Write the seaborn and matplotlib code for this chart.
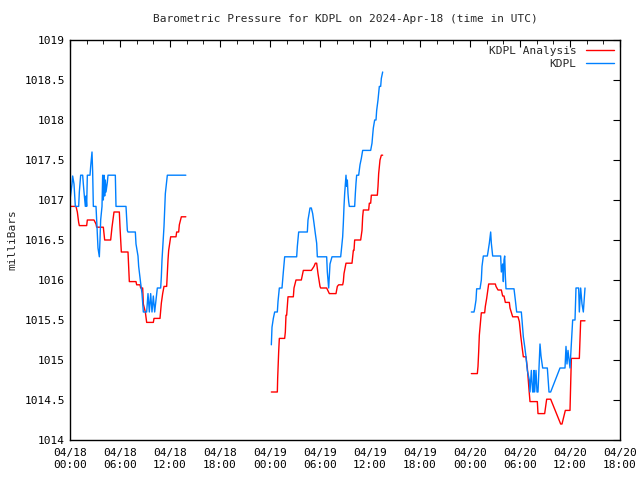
import pandas as pd
import matplotlib
matplotlib.use("Agg")
import matplotlib.pyplot as plt
import matplotlib.dates as mdates
from matplotlib.ticker import MultipleLocator, FormatStrFormatter
import seaborn as sns

# (hours since 2024-04-18 00:00 UTC, pressure in mb)
analysis_seg1 = [(0.0, 1016.92), (0.72, 1016.92), (0.88, 1016.85), (1.04, 1016.72), (1.12, 1016.68),
                 (2.0, 1016.68), (2.08, 1016.75), (2.88, 1016.75), (3.12, 1016.7), (3.2, 1016.66),
                 (4.0, 1016.66), (4.16, 1016.5), (4.88, 1016.5), (5.04, 1016.66), (5.28, 1016.85),
                 (5.92, 1016.85), (6.0, 1016.66), (6.16, 1016.35), (6.96, 1016.35), (7.12, 1015.98),
                 (7.92, 1015.98), (8.0, 1015.94), (8.4, 1015.94), (8.48, 1015.9), (8.72, 1015.9),
                 (8.8, 1015.7), (9.04, 1015.6), (9.2, 1015.47), (10.0, 1015.47), (10.08, 1015.52),
                 (10.8, 1015.52), (10.96, 1015.71), (11.12, 1015.83), (11.28, 1015.92), (11.6, 1015.92),
                 (11.76, 1016.25), (11.84, 1016.37), (12.08, 1016.54), (12.72, 1016.54), (12.8, 1016.6),
                 (13.04, 1016.6), (13.12, 1016.69), (13.36, 1016.79), (13.9, 1016.79)]
analysis_seg2 = [(24.16, 1014.6), (24.88, 1014.6), (24.92, 1014.77), (25.04, 1015.1), (25.12, 1015.27),
                 (25.76, 1015.27), (25.84, 1015.35), (25.92, 1015.56), (26.0, 1015.56), (26.16, 1015.79),
                 (26.8, 1015.79), (26.88, 1015.9), (27.12, 1016.0), (27.76, 1016.0), (28.0, 1016.12),
                 (28.96, 1016.12), (29.28, 1016.17), (29.44, 1016.21), (29.6, 1016.21), (29.76, 1016.08),
                 (30.0, 1015.92), (30.08, 1015.9), (30.8, 1015.9), (31.12, 1015.83), (31.92, 1015.83),
                 (32.08, 1015.92), (32.24, 1015.94), (32.72, 1015.94), (32.8, 1015.98), (32.88, 1016.08),
                 (33.12, 1016.21), (33.84, 1016.21), (34.0, 1016.37), (34.08, 1016.37), (34.16, 1016.5),
                 (34.88, 1016.5), (35.04, 1016.62), (35.12, 1016.79), (35.2, 1016.875), (35.84, 1016.875),
                 (35.92, 1016.96), (36.08, 1016.96), (36.16, 1017.06), (36.88, 1017.06), (36.96, 1017.17),
                 (37.04, 1017.33), (37.2, 1017.5), (37.36, 1017.56), (37.52, 1017.56)]
analysis_seg3 = [(48.16, 1014.83), (48.88, 1014.83), (48.96, 1014.92), (49.04, 1015.1), (49.12, 1015.31),
                 (49.28, 1015.5), (49.36, 1015.59), (49.76, 1015.59), (49.84, 1015.67), (50.0, 1015.77),
                 (50.16, 1015.89), (50.24, 1015.95), (51.04, 1015.95), (51.12, 1015.92), (51.36, 1015.875),
                 (51.76, 1015.875), (51.92, 1015.8), (52.08, 1015.8), (52.24, 1015.72), (52.72, 1015.72),
                 (52.8, 1015.65), (53.12, 1015.54), (53.76, 1015.54), (53.92, 1015.48), (54.08, 1015.31),
                 (54.24, 1015.17), (54.4, 1015.04), (54.72, 1015.04), (54.88, 1014.9), (55.12, 1014.58),
                 (55.2, 1014.48), (56.08, 1014.48), (56.16, 1014.33), (56.96, 1014.33), (57.2, 1014.51),
                 (57.68, 1014.51), (58.88, 1014.2), (59.04, 1014.2), (59.44, 1014.37), (60.0, 1014.37),
                 (60.16, 1015.02), (61.12, 1015.02), (61.28, 1015.49), (61.8, 1015.49)]

kdpl_seg1 = [(0.0, 1017.0), (0.24, 1017.2), (0.32, 1017.3), (0.48, 1017.2), (0.64, 1016.92), (1.04, 1016.92),
             (1.12, 1017.1), (1.28, 1017.31), (1.52, 1017.31), (1.6, 1017.2), (1.68, 1017.1), (1.84, 1016.92),
             (1.92, 1017.05), (2.0, 1016.92), (2.08, 1017.31), (2.4, 1017.31), (2.48, 1017.42), (2.64, 1017.6),
             (2.72, 1017.35), (2.8, 1016.92), (3.12, 1016.92), (3.2, 1016.75), (3.36, 1016.4), (3.52, 1016.29),
             (3.6, 1016.5), (3.68, 1016.75), (3.84, 1016.92), (3.92, 1017.31), (4.0, 1017.0), (4.08, 1017.31),
             (4.16, 1017.05), (4.24, 1017.25), (4.32, 1017.1), (4.48, 1017.22), (4.56, 1017.31), (5.44, 1017.31),
             (5.52, 1016.92), (6.72, 1016.92), (6.88, 1016.62), (6.96, 1016.6), (7.84, 1016.6), (7.92, 1016.45),
             (8.16, 1016.3), (8.24, 1016.17), (8.48, 1015.96), (8.64, 1015.83), (8.8, 1015.6), (9.2, 1015.6),
             (9.36, 1015.83), (9.52, 1015.6), (9.68, 1015.83), (9.84, 1015.6), (10.0, 1015.8), (10.16, 1015.6),
             (10.32, 1015.75), (10.48, 1015.9), (10.88, 1015.9), (10.96, 1016.04), (11.04, 1016.25),
             (11.28, 1016.67), (11.44, 1017.08), (11.68, 1017.31), (13.9, 1017.31)]
kdpl_seg2 = [(24.16, 1015.19), (24.24, 1015.41), (24.4, 1015.52), (24.56, 1015.6), (24.88, 1015.6),
             (24.96, 1015.73), (25.12, 1015.9), (25.44, 1015.9), (25.52, 1016.0), (25.6, 1016.1),
             (25.76, 1016.29), (27.2, 1016.29), (27.28, 1016.42), (27.44, 1016.6), (28.48, 1016.6),
             (28.56, 1016.75), (28.8, 1016.9), (28.96, 1016.9), (29.12, 1016.83), (29.28, 1016.71),
             (29.44, 1016.58), (29.6, 1016.46), (29.68, 1016.29), (30.8, 1016.29), (30.88, 1016.1),
             (31.04, 1015.9), (31.12, 1016.05), (31.2, 1016.2), (31.44, 1016.29), (32.48, 1016.29),
             (32.56, 1016.37), (32.72, 1016.54), (32.8, 1016.71), (32.88, 1016.92), (32.96, 1017.08),
             (33.12, 1017.31), (33.2, 1017.17), (33.28, 1017.25), (33.36, 1017.08), (33.44, 1016.98),
             (33.52, 1016.92), (34.16, 1016.92), (34.24, 1017.08), (34.32, 1017.21), (34.4, 1017.31),
             (34.64, 1017.31), (34.8, 1017.44), (34.96, 1017.52), (35.12, 1017.62), (36.08, 1017.62),
             (36.24, 1017.71), (36.32, 1017.81), (36.4, 1017.9), (36.56, 1018.0), (36.72, 1018.0),
             (36.8, 1018.12), (36.96, 1018.25), (37.12, 1018.42), (37.28, 1018.42), (37.36, 1018.52),
             (37.52, 1018.6)]
kdpl_seg3 = [(48.16, 1015.6), (48.48, 1015.6), (48.56, 1015.64), (48.72, 1015.75), (48.8, 1015.89),
             (49.2, 1015.89), (49.36, 1016.0), (49.44, 1016.17), (49.6, 1016.3), (50.08, 1016.3),
             (50.16, 1016.35), (50.32, 1016.46), (50.48, 1016.6), (50.56, 1016.46), (50.72, 1016.3),
             (51.68, 1016.3), (51.76, 1016.1), (51.92, 1016.2), (52.0, 1015.98), (52.08, 1016.25),
             (52.16, 1016.3), (52.24, 1016.05), (52.32, 1015.89), (53.28, 1015.89), (53.44, 1015.75),
             (53.6, 1015.6), (54.16, 1015.6), (54.24, 1015.5), (54.4, 1015.29), (54.56, 1015.17),
             (54.72, 1015.04), (54.88, 1014.87), (55.12, 1014.75), (55.2, 1014.6), (55.36, 1014.87),
             (55.52, 1014.6), (55.6, 1014.6), (55.68, 1014.87), (55.76, 1014.6), (55.92, 1014.87),
             (56.04, 1014.6), (56.16, 1014.6), (56.4, 1015.2), (56.52, 1015.05), (56.72, 1014.9),
             (57.28, 1014.9), (57.48, 1014.6), (57.68, 1014.6), (58.8, 1014.9), (59.4, 1014.9),
             (59.52, 1015.17), (59.64, 1014.95), (59.76, 1015.12), (60.0, 1014.9), (60.16, 1015.2),
             (60.32, 1015.5), (60.6, 1015.5), (60.72, 1015.9), (61.04, 1015.9), (61.12, 1015.6),
             (61.28, 1015.9), (61.44, 1015.7), (61.6, 1015.6), (61.8, 1015.9)]

series_names = ["KDPL Analysis", "KDPL"]
series_colors = ["#ff0000", "#0080ff"]

start = pd.Timestamp("2024-04-18 00:00")

rows = []
for name, segs in [("KDPL Analysis", [analysis_seg1, analysis_seg2, analysis_seg3]),
                   ("KDPL", [kdpl_seg1, kdpl_seg2, kdpl_seg3])]:
    for i, seg in enumerate(segs):
        for h, p in seg:
            rows.append({"series": name, "seg": f"{name}-{i}", "hours": h, "pressure": p})
df = pd.DataFrame(rows)
df["time"] = start + pd.to_timedelta(df["hours"], unit="h")

sns.set_style("white")
plt.rcParams["font.family"] = ["DejaVu Sans Mono"]

fig = plt.figure(figsize=(6.4, 4.8), dpi=100)
ax = fig.add_axes([70 / 640, 40 / 480, 550 / 640, 400 / 480])

sns.lineplot(data=df, x="time", y="pressure", hue="series", units="seg", estimator=None,
             sort=False, hue_order=series_names, palette=dict(zip(series_names, series_colors)),
             linewidth=1.0, ax=ax)

ax.set_xlim(start, start + pd.Timedelta(hours=66))
ax.set_ylim(1014, 1019)
ax.xaxis.set_major_locator(mdates.HourLocator(byhour=[0, 6, 12, 18]))
ax.xaxis.set_major_formatter(mdates.DateFormatter("%m/%d\n%H:%M"))
ax.xaxis.set_minor_locator(mdates.HourLocator(interval=2))
ax.yaxis.set_major_locator(MultipleLocator(0.5))
ax.yaxis.set_major_formatter(FormatStrFormatter("%g"))

ax.tick_params(which="both", direction="in", top=True, right=True, labelsize=8, colors="black")
ax.tick_params(which="major", length=5)
ax.tick_params(which="minor", length=3)
ax.tick_params(axis="x", pad=6)
for s in ax.spines.values():
    s.set_color("black")
    s.set_linewidth(1.0)

ax.set_xlabel("")
ax.set_ylabel("milliBars", fontsize=8, labelpad=5)
ax.set_title("Barometric Pressure for KDPL on 2024-Apr-18 (time in UTC)", fontsize=8, pad=13)

ax.legend(loc="upper right", frameon=False, markerfirst=False, fontsize=8,
          handlelength=2.6, borderaxespad=0.1, labelspacing=0.3, title=None)

fig.savefig("out.png", dpi=100)
